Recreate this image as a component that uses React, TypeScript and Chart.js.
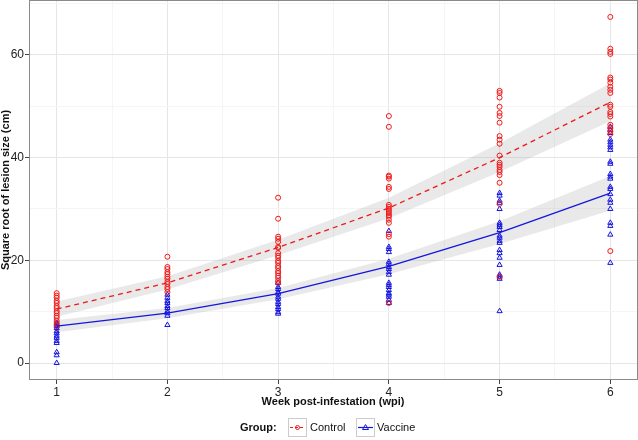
import React, { useEffect, useRef } from "react";
import { Chart, registerables } from "chart.js";
Chart.register(...registerables);

const weeks = [1, 2, 3, 4, 5, 6];

// fitted curves and confidence bands
const controlFit = [10.5, 15.6, 22.5, 30.2, 40.0, 50.8];
const controlLower = [9.0, 14.3, 21.0, 28.2, 37.2, 47.1];
const controlUpper = [12.0, 16.9, 24.0, 32.2, 42.8, 54.5];
const vaccineFit = [7.2, 9.7, 13.5, 18.8, 25.4, 33.1];
const vaccineLower = [6.0, 8.7, 12.4, 17.3, 23.2, 29.7];
const vaccineUpper = [8.4, 10.7, 14.6, 20.3, 27.6, 36.4];

// raw observations, Control
const controlW1 = [13.6, 13.1, 12.7, 12.1, 11.7, 11.1, 10.7, 10.1, 9.7, 9.2, 8.8, 8.2, 7.8, 7.2];
const controlW2 = [20.7, 18.7, 18.3, 17.7, 17.3, 16.8, 16.4, 15.8, 15.4, 14.8, 14.4, 13.8];
const controlW3 = [32.2, 28.1, 24.6, 24.2, 23.6, 22.6, 22.4, 21.4, 20.9, 20.5, 19.9, 19.5, 18.9, 18.5, 17.9, 17.5, 17.0, 16.6, 16.0, 15.6];
const controlW4 = [48.1, 46.0, 36.5, 36.3, 35.9, 34.3, 33.9, 30.8, 30.4, 30.0, 29.6, 29.2, 28.8, 28.5, 27.9, 27.3, 25.1, 24.6, 11.7];
const controlW5 = [53.0, 52.6, 51.7, 49.9, 48.7, 48.1, 46.8, 44.2, 43.5, 42.7, 40.4, 39.0, 38.6, 38.2, 37.6, 37.2, 36.6, 35.1, 31.0, 16.8];
const controlW6 = [67.4, 61.2, 60.6, 60.2, 55.6, 55.2, 54.6, 53.8, 53.2, 52.6, 50.3, 49.9, 48.9, 48.5, 48.0, 46.4, 45.8, 45.2, 44.6, 21.8];

// raw observations, Vaccine
const vaccineW1 = [7.8, 7.5, 7.2, 6.8, 6.2, 5.8, 5.3, 4.9, 4.3, 3.9, 2.1, 1.5, 0];
const vaccineW2 = [13.3, 12.7, 12.1, 11.7, 11.1, 10.7, 10.1, 9.7, 9.2, 7.4];
const vaccineW3 = [15.6, 14.8, 14.4, 13.8, 13.5, 12.9, 12.5, 11.9, 11.5, 10.9, 10.5, 9.9, 9.6];
const vaccineW4 = [25.7, 22.6, 22.2, 21.6, 19.7, 19.3, 18.7, 18.3, 17.7, 17.2, 15.6, 15.2, 14.8, 14.2, 13.6, 13.3, 12.9, 12.3, 11.7];
const vaccineW5 = [33.1, 32.6, 31.6, 31.2, 30.0, 27.3, 26.9, 26.5, 25.9, 24.8, 24.4, 23.8, 23.4, 22.0, 21.4, 20.5, 19.1, 17.2, 16.8, 16.4, 10.1];
const vaccineW6 = [46.0, 45.4, 44.8, 43.5, 43.0, 42.5, 42.0, 41.5, 39.2, 38.8, 36.8, 36.3, 35.9, 34.3, 33.9, 32.9, 31.8, 31.2, 30.0, 27.3, 26.7, 25.0, 19.5];

const xGrid = [1, 1.5, 2, 2.5, 3, 3.5, 4, 4.5, 5, 5.5, 6];
const yGrid = [0, 10, 20, 30, 40, 50, 60, 70];

const RED = "#f01818";
const BLUE = "#1515e0";
const FONT = '"Liberation Sans", Arial, sans-serif';

const toPts = (groups: number[][]) =>
  groups.flatMap((arr, i) => arr.map((v) => ({ x: weeks[i], y: v })));
const toLine = (vals: number[]) => weeks.map((w, i) => ({ x: w, y: vals[i] }));

const decor = {
  id: "decor",
  afterDraw(chart: any) {
    const { ctx, chartArea } = chart;
    const { left, top, right, bottom } = chartArea;
    ctx.save();
    ctx.strokeStyle = "#8a8a8a";
    ctx.lineWidth = 1;
    ctx.strokeRect(left + 0.5, top + 0.5, right - left - 1, bottom - top - 1);

    ctx.fillStyle = "#111";
    ctx.font = `bold 11px ${FONT}`;
    ctx.textAlign = "center";
    ctx.textBaseline = "middle";
    ctx.fillText("Week post-infestation (wpi)", 333, 402);

    ctx.save();
    ctx.translate(5.5, 190);
    ctx.rotate(-Math.PI / 2);
    ctx.fillText("Square root of lesion size (cm)", 0, 0);
    ctx.restore();

    // legend
    ctx.textAlign = "left";
    ctx.fillText("Group:", 240, 428);
    ctx.font = `11px ${FONT}`;
    ctx.fillText("Control", 310, 428);
    ctx.fillText("Vaccine", 377, 428);

    ctx.strokeStyle = "#cccccc";
    ctx.strokeRect(288.5, 418.5, 18, 18);
    ctx.strokeRect(356.5, 418.5, 18, 18);

    ctx.strokeStyle = RED;
    ctx.lineWidth = 1.2;
    ctx.setLineDash([3, 2]);
    ctx.beginPath();
    ctx.moveTo(290, 427.5);
    ctx.lineTo(305, 427.5);
    ctx.stroke();
    ctx.setLineDash([]);
    ctx.lineWidth = 1;
    ctx.beginPath();
    ctx.arc(297.5, 427.5, 2, 0, Math.PI * 2);
    ctx.stroke();

    ctx.strokeStyle = BLUE;
    ctx.lineWidth = 1.2;
    ctx.beginPath();
    ctx.moveTo(358, 427.5);
    ctx.lineTo(373, 427.5);
    ctx.stroke();
    ctx.lineWidth = 1;
    ctx.beginPath();
    ctx.moveTo(365.5, 424.5);
    ctx.lineTo(362.5, 429.5);
    ctx.lineTo(368.5, 429.5);
    ctx.closePath();
    ctx.stroke();
    ctx.restore();
  },
};

export default function App() {
  const ref = useRef<HTMLCanvasElement>(null);
  useEffect(() => {
    const chart = new Chart(ref.current as HTMLCanvasElement, {
      type: "scatter",
      data: {
        datasets: [
          {
            type: "line",
            data: toLine(controlUpper),
            fill: "+1",
            backgroundColor: "rgba(170,170,170,0.26)",
            borderColor: "rgba(0,0,0,0)",
            borderWidth: 0,
            pointRadius: 0,
            order: 5,
          },
          {
            type: "line",
            data: toLine(controlLower),
            fill: false,
            borderColor: "rgba(0,0,0,0)",
            borderWidth: 0,
            pointRadius: 0,
            order: 5,
          },
          {
            type: "line",
            data: toLine(vaccineUpper),
            fill: "+1",
            backgroundColor: "rgba(170,170,170,0.26)",
            borderColor: "rgba(0,0,0,0)",
            borderWidth: 0,
            pointRadius: 0,
            order: 5,
          },
          {
            type: "line",
            data: toLine(vaccineLower),
            fill: false,
            borderColor: "rgba(0,0,0,0)",
            borderWidth: 0,
            pointRadius: 0,
            order: 5,
          },
          {
            type: "scatter",
            label: "Control",
            data: toPts([controlW1, controlW2, controlW3, controlW4, controlW5, controlW6]),
            pointStyle: "circle",
            pointRadius: 2.5,
            borderColor: RED,
            backgroundColor: "rgba(0,0,0,0)",
            borderWidth: 1,
            order: 3,
          },
          {
            type: "scatter",
            label: "Vaccine",
            data: toPts([vaccineW1, vaccineW2, vaccineW3, vaccineW4, vaccineW5, vaccineW6]),
            pointStyle: "triangle",
            pointRadius: 3,
            borderColor: BLUE,
            backgroundColor: "rgba(0,0,0,0)",
            borderWidth: 1,
            order: 3,
          },
          {
            type: "line",
            data: toLine(controlFit),
            borderColor: RED,
            borderWidth: 1.3,
            borderDash: [5, 4],
            pointRadius: 0,
            fill: false,
            order: 1,
          },
          {
            type: "line",
            data: toLine(vaccineFit),
            borderColor: BLUE,
            borderWidth: 1.3,
            pointRadius: 0,
            fill: false,
            order: 1,
          },
        ] as any,
      },
      options: {
        animation: false,
        responsive: false,
        layout: { padding: 0, autoPadding: false },
        plugins: { legend: { display: false }, tooltip: { enabled: false } },
        scales: {
          x: {
            type: "linear",
            min: 0.75,
            max: 6.25,
            afterBuildTicks: (s: any) => {
              s.ticks = xGrid.map((v) => ({ value: v }));
            },
            afterFit: (s: any) => {
              s.height = 60;
              s.paddingLeft = 0;
              s.paddingRight = 0;
              s.paddingTop = 0;
              s.paddingBottom = 0;
            },
            grid: {
              color: (c: any) => (c.tick && Number.isInteger(c.tick.value) ? "#e6e6e6" : "#f5f5f5"),
              tickColor: (c: any) => (c.tick && Number.isInteger(c.tick.value) ? "#444" : "rgba(0,0,0,0)"),
              tickLength: 4,
              lineWidth: 1,
            },
            border: { display: false },
            ticks: {
              autoSkip: false,
              maxRotation: 0,
              padding: 1,
              color: "#222",
              font: { family: FONT, size: 12 },
              callback: (v: any) => (Number.isInteger(v) ? String(v) : ""),
            },
          },
          y: {
            type: "linear",
            min: -3.31,
            max: 70.7,
            afterBuildTicks: (s: any) => {
              s.ticks = yGrid.map((v) => ({ value: v }));
            },
            afterFit: (s: any) => {
              s.width = 29;
              s.paddingLeft = 0;
              s.paddingRight = 0;
              s.paddingTop = 0;
              s.paddingBottom = 0;
            },
            grid: {
              color: (c: any) => (c.tick && c.tick.value % 20 === 0 ? "#e6e6e6" : "#f5f5f5"),
              tickColor: (c: any) => (c.tick && c.tick.value % 20 === 0 ? "#444" : "rgba(0,0,0,0)"),
              tickLength: 4,
              lineWidth: 1,
            },
            border: { display: false },
            ticks: {
              autoSkip: false,
              padding: 1,
              color: "#222",
              font: { family: FONT, size: 12 },
              callback: (v: any) => (v % 20 === 0 ? String(v) : ""),
            },
          },
        },
      } as any,
      plugins: [decor],
    });
    return () => chart.destroy();
  }, []);
  return (
    <div style={{ position: "fixed", left: 0, top: 0, width: 638, height: 440, background: "#fff" }}>
      <canvas ref={ref} width={638} height={440} style={{ display: "block" }} />
    </div>
  );
}
